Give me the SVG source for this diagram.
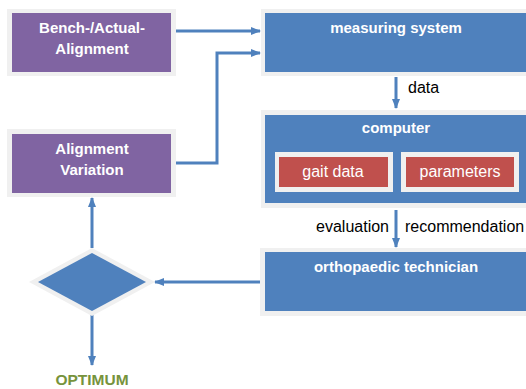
<svg xmlns="http://www.w3.org/2000/svg" width="526" height="389" viewBox="0 0 526 389">
<defs>
<style>
.frame{fill:#F0F0F0}
.purple{fill:#8064A2}
.blue{fill:#4F81BD}
.red{fill:#C0504D}
.t{font-family:"Liberation Sans",Arial,sans-serif;font-size:15px;text-anchor:middle}
.b{font-weight:bold;fill:#FFFFFF}
.w{fill:#FFFFFF;font-size:16px}
.k{fill:#000000;font-size:16px}
.conn{fill:none;stroke:#4F81BD;stroke-width:3}
.opt{fill:#77933C;font-weight:bold;font-size:15.5px}
</style>
<marker id="arr" markerUnits="userSpaceOnUse" markerWidth="10" markerHeight="10" refX="9" refY="5" orient="auto">
<path d="M0,1 L10,5 L0,9 z" fill="#4F81BD"/>
</marker>
</defs>
<rect width="526" height="389" fill="#FFFFFF"/>

<g id="connectors">
<path class="conn" d="M176,31 H260" marker-end="url(#arr)"/>
<path class="conn" d="M176,163 H217 V53 H260" marker-end="url(#arr)"/>
<path class="conn" d="M396,77 V108" marker-end="url(#arr)"/>
<path class="conn" d="M396,210 V247" marker-end="url(#arr)"/>
<path class="conn" d="M260,282 H155" marker-end="url(#arr)"/>
<path class="conn" d="M92,248 V198" marker-end="url(#arr)"/>
<path class="conn" d="M92,315 V365" marker-end="url(#arr)"/>
</g>

<g id="bench">
<rect class="frame" x="7" y="9" width="169" height="67"/>
<rect class="purple" x="12" y="13" width="159" height="59"/>
<text class="t b" x="92" y="33">Bench-/Actual-</text>
<text class="t b" x="92" y="54">Alignment</text>
</g>

<g id="variation">
<rect class="frame" x="7" y="129" width="169" height="68"/>
<rect class="purple" x="12" y="134" width="159" height="59"/>
<text class="t b" x="92" y="154">Alignment</text>
<text class="t b" x="92" y="175">Variation</text>
</g>

<g id="measuring">
<rect class="frame" x="261" y="9" width="270" height="67"/>
<rect class="blue" x="265" y="13" width="266" height="59"/>
<text class="t b" x="396" y="33">measuring system</text>
</g>

<g id="data-label">
<text class="t k" x="408" y="93" style="text-anchor:start">data</text>
</g>

<g id="computer">
<rect class="frame" x="261" y="110" width="270" height="98"/>
<rect class="blue" x="265" y="115" width="266" height="88"/>
<text class="t b" x="396" y="133">computer</text>
</g>

<g id="gait">
<rect class="frame" x="275" y="152" width="118" height="40"/>
<rect class="red" x="279" y="157" width="109" height="30"/>
<text class="t w" x="333" y="177">gait data</text>
</g>

<g id="parameters">
<rect class="frame" x="401" y="152" width="118" height="40"/>
<rect class="red" x="406" y="157" width="108" height="30"/>
<text class="t w" x="460" y="177">parameters</text>
</g>

<g id="eval-labels">
<text class="t k" x="389" y="232" style="text-anchor:end">evaluation</text>
<text class="t k" x="405" y="232" style="text-anchor:start">recommendation</text>
</g>

<g id="technician">
<rect class="frame" x="260" y="248" width="271" height="68"/>
<rect class="blue" x="265" y="252" width="266" height="59"/>
<text class="t b" x="396" y="272">orthopaedic technician</text>
</g>

<g id="decision">
<polygon class="frame" points="92,248 155,282 92,316 29,282"/>
<polygon class="blue" points="92,253 146,282 92,311 38,282"/>
</g>

<g id="optimum">
<text class="t opt" x="92" y="385">OPTIMUM</text>
</g>
</svg>
